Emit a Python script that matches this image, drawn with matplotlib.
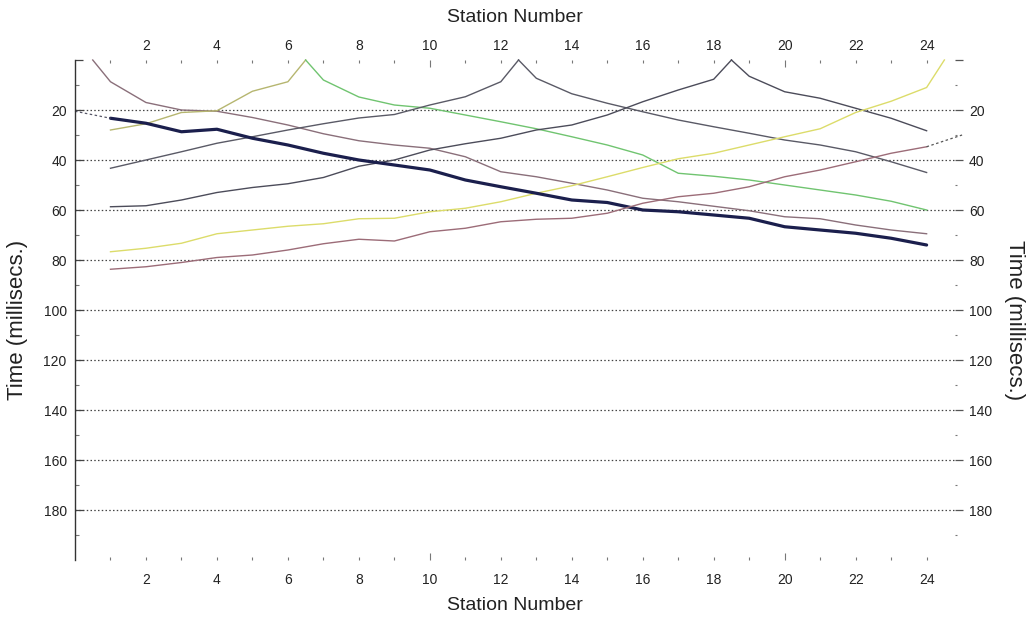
import matplotlib
matplotlib.use("Agg")
import matplotlib.pyplot as plt

plt.rcParams['font.family'] = ['Liberation Sans', 'DejaVu Sans']

# geophone stations and first-break times (millisecs.)
stations = list(range(1, 25))
shot_pos = [0.5, 6.5, 12.5, 18.5, 24.5]

shot1_t = [8.7, 17, 20, 20.5, 23, 26, 29.5, 32.3, 34, 35.3, 38.7, 44.7,
           46.7, 49.3, 52, 55.3, 56.7, 58.5, 60.3, 62.7, 63.5, 66, 68, 69.5]
shot2_t = [28, 25.5, 21, 20.3, 12.5, 8.7, 8, 14.8, 18, 19.3, 22, 24.7,
           27.5, 30.7, 34, 38, 45.3, 46.5, 48, 50, 52, 54, 56.5, 60]
shot3_t = [43.3, 40, 36.7, 33.3, 30.7, 28, 25.5, 23.2, 21.8, 18, 14.7, 8.7,
           7.3, 13.5, 17.3, 20.7, 24, 26.7, 29.3, 32, 34, 36.7, 40.7, 45]
shot4_t = [58.7, 58.3, 56, 53, 51, 49.5, 47, 42.5, 40, 36, 33.5, 31.3,
           28, 26, 22, 16.7, 12, 7.7, 6.5, 12.7, 15.3, 19.3, 23.3, 28.3]
shot5_t = [76.7, 75.3, 73.3, 69.5, 68, 66.5, 65.5, 63.5, 63.3, 60.7, 59.3, 56.7,
           53.3, 50.3, 46.7, 43, 39.5, 37.3, 34, 30.7, 27.5, 21, 16.5, 11]
shot_times = [shot1_t, shot2_t, shot3_t, shot4_t, shot5_t]

# off-end shots, with the extrapolation to the end of the spread
offend_left_t = [23.3, 25.3, 28.7, 27.7, 31.3, 34, 37.3, 40, 42, 44, 48, 50.7,
                 53.3, 56, 57, 60, 60.7, 62, 63.3, 66.7, 68, 69.3, 71.3, 74]
offend_left_edge = [0, 20.5]
offend_right_t = [83.7, 82.7, 81, 79, 78, 76, 73.5, 71.7, 72.4, 68.7, 67.3, 64.7,
                  63.7, 63.3, 61.3, 57.3, 54.7, 53.3, 50.7, 46.7, 44, 40.7, 37.3, 34.7]
offend_right_edge = [25, 30]

branch_colors = [('#7a7a7a', '#8a6f7a'), ('#b6b670', '#70c470'),
                 ('#5a5a66', '#5a5a66'), ('#4c4c5a', '#4c4c5a'),
                 ('#dcdc6a', '#dcdc6a')]

x_ticks = stations
x_labels = [str(s) if s % 2 == 0 else '' for s in stations]
y_major = list(range(0, 200, 20))
y_labels = [''] + [str(v) for v in y_major[1:]]
y_minor = list(range(10, 200, 20))

txt = '#222222'

fig = plt.figure(figsize=(10.33, 6.19), dpi=100)
ax = fig.add_axes([75 / 1033, 1 - 560 / 619, 880 / 1033, 500 / 619])

for sp, times, cols in zip(shot_pos, shot_times, branch_colors):
    lx = [s for s in stations if s < sp]
    lt = [t for s, t in zip(stations, times) if s < sp]
    rx = [s for s in stations if s > sp]
    rt = [t for s, t in zip(stations, times) if s > sp]
    if lx:
        ax.plot(lx + [sp], lt + [0], color=cols[0], lw=1.0, clip_on=False)
    if rx:
        ax.plot([sp] + rx, [0] + rt, color=cols[1], lw=1.0, clip_on=False)

ax.plot(stations, offend_left_t, color='#1b1f4d', lw=2.3, solid_capstyle='round')
ax.plot([offend_left_edge[0], stations[0]], [offend_left_edge[1], offend_left_t[0]],
        color='#555566', lw=0.9, ls=(0, (2, 2)), clip_on=False)
ax.plot(stations, offend_right_t, color='#9c6c78', lw=1.0)
ax.plot([stations[-1], offend_right_edge[0]], [offend_right_t[-1], offend_right_edge[1]],
        color='#555555', lw=0.9, ls=(0, (2, 2)), clip_on=False)

ax.set_xlim(0, 24.8)
ax.set_ylim(200, 0)

for s in ['top', 'right', 'bottom']:
    ax.spines[s].set_visible(False)
ax.spines['left'].set_color('#333333')
ax.spines['left'].set_linewidth(1.0)

# bottom axis
ax.set_xticks(x_ticks, x_labels)
ax.tick_params(axis='x', direction='in', length=2.5, width=0.8, color='#777777',
               pad=9, labelsize=10, labelcolor=txt)
for tk, s in zip(ax.xaxis.get_major_ticks(), stations):
    if s % 10 == 0:
        tk.tick1line.set_markersize(5)
ax.set_xlabel('Station Number', fontsize=14, color=txt)
ax.xaxis.set_label_coords(0.5, -0.09)
ax.xaxis.label.set_va('center')

# left axis
ax.set_yticks(y_major, y_labels)
ax.set_yticks(y_minor, minor=True)
ax.tick_params(axis='y', which='major', direction='in', length=6, width=0.9,
               color='#444444', pad=6, labelsize=10, labelcolor=txt)
ax.tick_params(axis='y', which='minor', direction='in', length=3, width=0.8,
               color='#777777')
ax.grid(axis='y', which='major', color='#444444', lw=0.9, ls=(0, (1.2, 1.8)))
ax.get_ygridlines()[0].set_visible(False)
ax.set_ylabel('Time (millisecs.)', fontsize=16, color=txt)
ax.yaxis.set_label_coords(-0.065, 0.48)
ax.yaxis.label.set_va('center')

# top axis
top = ax.secondary_xaxis('top')
top.set_xticks(x_ticks, x_labels)
top.tick_params(direction='in', length=2.5, width=0.8, color='#777777', pad=5,
                labelsize=10, labelcolor=txt)
for tk, s in zip(top.xaxis.get_major_ticks(), stations):
    if s % 10 == 0:
        tk.tick2line.set_markersize(5)
top.spines['top'].set_visible(False)
top.set_xlabel('Station Number', fontsize=14, color=txt)
top.xaxis.set_label_coords(0.5, 1.086, transform=ax.transAxes)
top.xaxis.label.set_va('center')

# right axis
right = ax.secondary_yaxis('right')
right.set_yticks(y_major, y_labels)
right.set_yticks(y_minor, minor=True)
right.tick_params(axis='y', which='major', direction='out', length=6, width=0.9,
                  color='#555555', pad=4, labelsize=10, labelcolor=txt)
right.tick_params(axis='y', which='minor', direction='out', length=1.5, width=0.8,
                  color='#777777', pad=4)
right.spines['right'].set_visible(False)
right.set_ylabel('Time (millisecs.)', fontsize=16, color=txt, rotation=270)
right.yaxis.set_label_coords(1.068, 0.48, transform=ax.transAxes)
right.yaxis.label.set_va('center')

fig.savefig('out.png', dpi=100, facecolor='white')
